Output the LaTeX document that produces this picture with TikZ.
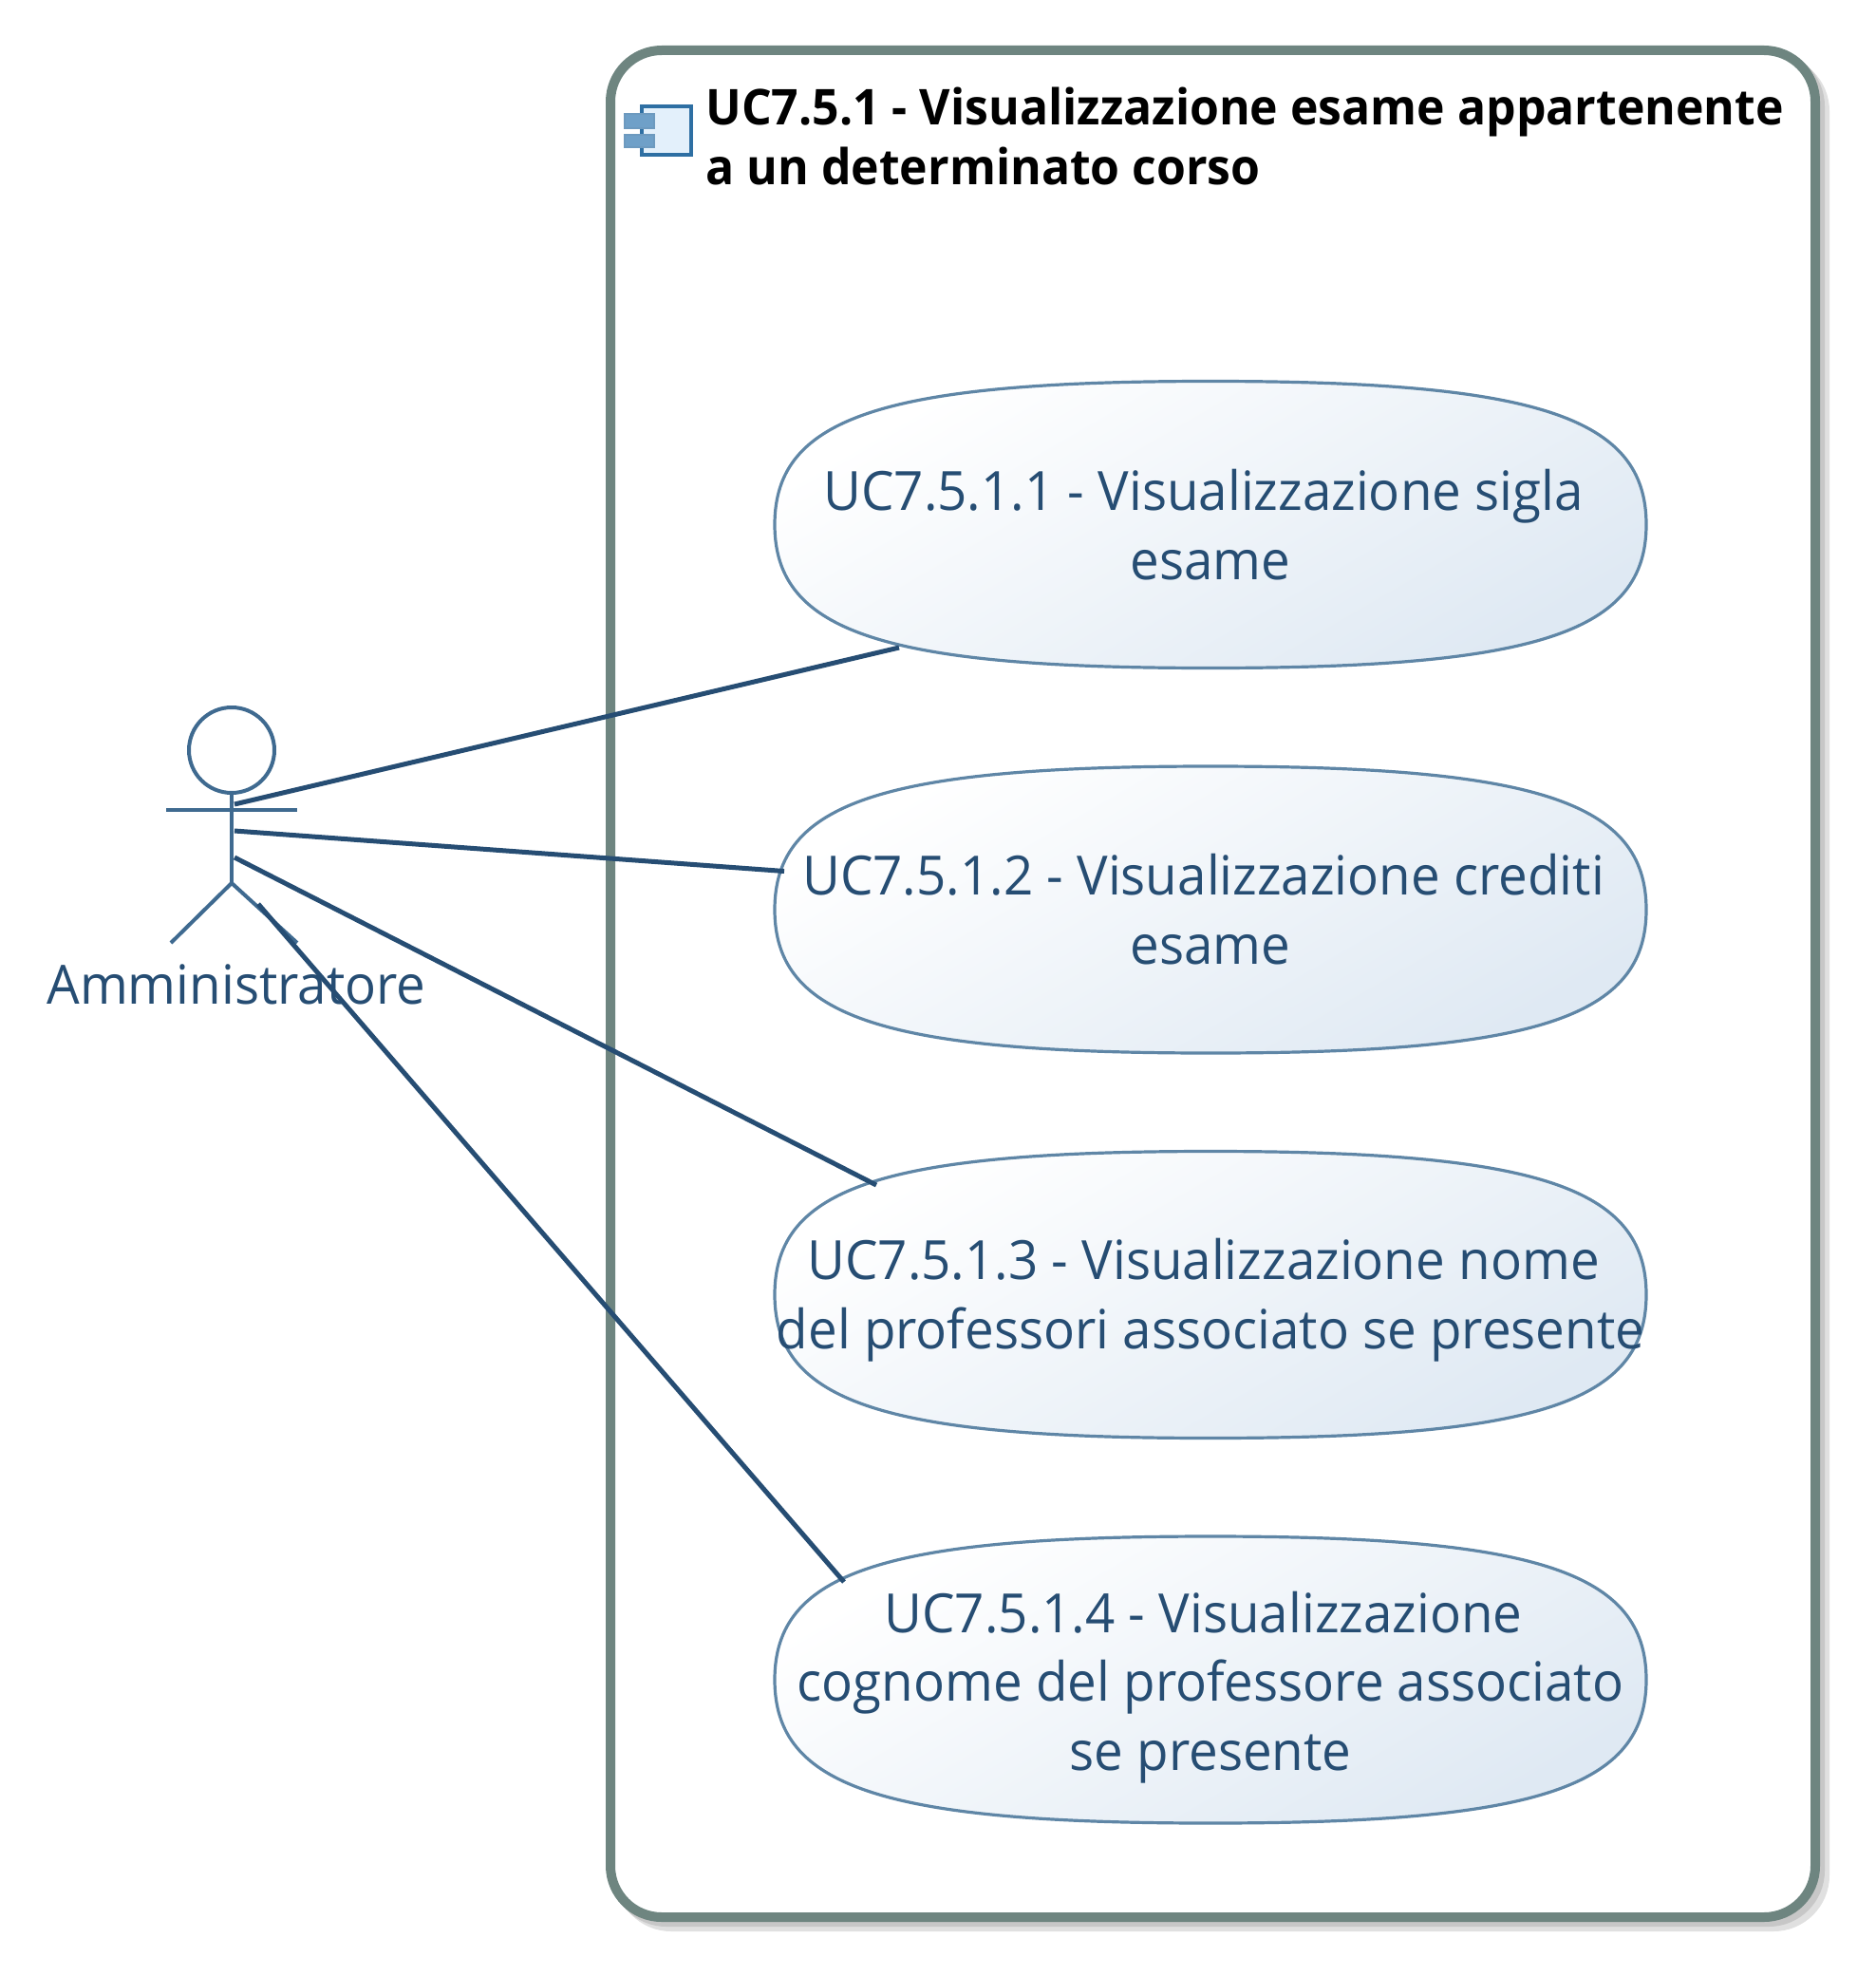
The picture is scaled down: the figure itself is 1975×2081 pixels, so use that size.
\documentclass[tikz,border=0pt]{standalone}
\usepackage{fontspec}
\setmainfont[FakeStretch=0.96]{Open Sans}
\usetikzlibrary{calc}

\definecolor{framegray}{HTML}{6E8580}
\definecolor{inkblue}{HTML}{264D73}
\definecolor{actorblue}{HTML}{3F6A90}
\definecolor{caseline}{HTML}{5F86A6}
\definecolor{casefill}{HTML}{DFE9F3}
\definecolor{iconline}{HTML}{2E6FA3}
\definecolor{iconfill}{HTML}{E3F0FB}
\definecolor{icontab}{HTML}{6FA0C8}

\tikzset{
  case shape/.style={draw=caseline,line width=1.6pt,top color=white,bottom color=casefill,shading angle=30},
  case text/.style={text=inkblue,align=center,inner sep=0pt,
    font=\fontsize{28.5}{36.4}\selectfont},
  actor line/.style={actorblue,line width=2pt},
  link/.style={inkblue,line width=2.5pt},
  frame line/.style={line width=5pt,rounded corners=27pt},
}

\newcommand{\trail}{\hspace*{7.5pt}}

% one use case: name, centre y, text y, text
\newcommand{\usecase}[4]{
  \shade[case shape,shift={(1275,#2)}] (-459,0)
    .. controls (-459,-113) and (-345,-151) .. (0,-151)
    .. controls (345,-151) and (459,-113) .. (459,0)
    .. controls (459,113) and (345,151) .. (0,151)
    .. controls (-345,151) and (-459,113) .. (-459,0) -- cycle;
  \node[case text] (#1) at (1275,#3) {#4};
}

\begin{document}
\begin{tikzpicture}[x=0.5pt,y=-0.5pt]
  \useasboundingbox (0,0) rectangle (1975,2081);

  % frame and its shadow
  \draw[frame line,color=black!12] (653,63) rectangle (1922,2029);
  \draw[frame line,color=black!22] (648,58) rectangle (1917,2024);
  \draw[frame line,framegray,fill=white] (643,53) rectangle (1912,2019);

  % component icon
  \draw[fill=iconfill,draw=iconline,line width=1.8pt] (676,112) rectangle (728,163);
  \draw[fill=icontab,draw=iconline!70,line width=1pt] (658,120) rectangle (689,135);
  \draw[fill=icontab,draw=iconline!70,line width=1pt] (658,142) rectangle (689,155);

  \node[anchor=base west,align=left,inner sep=0pt,font=\fontsize{26}{31.5}\selectfont\bfseries] (title) at (743,194.5)
    {UC7.5.1 - Visualizzazione esame appartenente\\a un determinato corso};

  \usecase{uc 1}{552.5}{553}{UC7.5.1.1 - Visualizzazione sigla\trail\\esame}
  \usecase{uc 2}{958}{958}{UC7.5.1.2 - Visualizzazione crediti\trail\\esame}
  \usecase{uc 3}{1363.5}{1369}{UC7.5.1.3 - Visualizzazione nome\trail\\del professori associato se presente}
  \usecase{uc 4}{1769}{1777}{UC7.5.1.4 - Visualizzazione\trail\\cognome del professore associato\trail\\se presente}

  % actor
  \draw[actor line] (244,790) circle [radius=45];
  \draw[actor line] (175,853) -- (313,853);
  \draw[actor line] (244,835) -- (244,930);
  \draw[actor line] (180,993) -- (244,930) -- (313,993);
  \node[anchor=base,inner sep=0pt,text=inkblue,font=\fontsize{28.5}{36.4}\selectfont] (actor label) at (249,1057) {Amministratore};

  \coordinate (actor 1) at (247,847);
  \coordinate (actor 2) at (247,875);
  \coordinate (actor 3) at (247,903);
  \coordinate (actor 4) at (272,952);
  \coordinate (hit 1) at (947,682);
  \coordinate (hit 2) at (826,917.5);
  \coordinate (hit 3) at (923,1248);
  \coordinate (hit 4) at (889,1666);

  \draw[link] (actor 1) -- (hit 1);
  \draw[link] (actor 2) -- (hit 2);
  \draw[link] (actor 3) -- (hit 3);
  \draw[link] (actor 4) -- (hit 4);
\end{tikzpicture}
\end{document}
